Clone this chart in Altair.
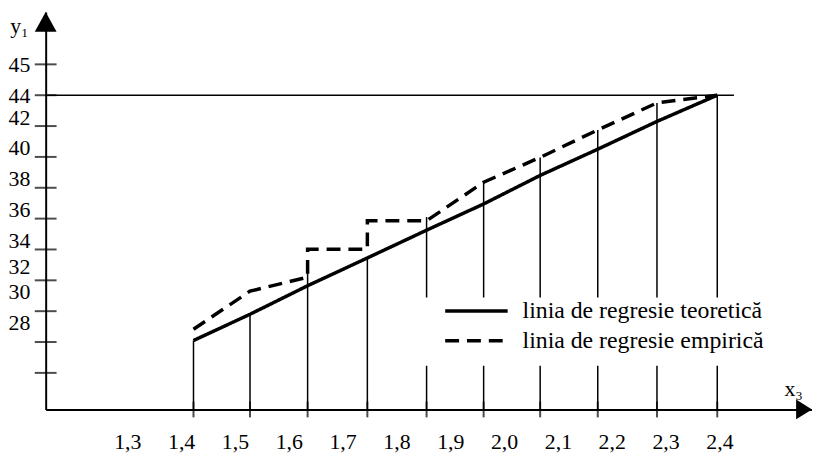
import altair as alt
import pandas as pd

# ---- data ----
x_lines = [1.423, 1.528, 1.635, 1.746, 1.856, 1.962, 2.067, 2.174, 2.284, 2.396]
y_teoretic = [28.1, 29.8, 31.65, 33.45, 35.25, 36.95, 38.8, 40.5, 42.3, 44.0]
emp_x = [1.423, 1.528, 1.635, 1.635, 1.746, 1.746, 1.856, 1.962, 2.067, 2.174, 2.284, 2.396]
emp_y = [28.83, 31.3, 32.2, 34.02, 34.02, 35.86, 35.86, 38.36, 39.97, 41.75, 43.5, 44.0]
drop_top = [28.1, 29.8, 33.3, 33.45, 36.1, 38.36, 39.97, 41.75, 43.5, 44.0]

x_tick_values = [1.3, 1.4, 1.5, 1.6, 1.7, 1.8, 1.9, 2.0, 2.1, 2.2, 2.3, 2.4]
x_tick_labels = ["1,3", "1,4", "1,5", "1,6", "1,7", "1,8", "1,9", "2,0", "2,1", "2,2", "2,3", "2,4"]
y_tick_values = [28, 30, 32, 34, 36, 38, 40, 42, 44, 46]
y_tick_labels = ["28", "30", "32", "34", "36", "38", "40", "42", "44", "45"]
y_tick_marks = [26, 28, 30, 32, 34, 36, 38, 40, 42, 44, 46]
series = ["linia de regresie teoretică", "linia de regresie empirică"]
level = 44
level_end = 2.427

# ---- layout ----
W, H = 773, 401
FONT = "Liberation Serif"
X_DOMAIN = [1.1484, 2.572]
Y_DOMAIN = [23.63, 49.40]

xs = alt.Scale(domain=X_DOMAIN, nice=False, zero=False)
ys = alt.Scale(domain=Y_DOMAIN, nice=False, zero=False)

x_label_expr = "[" + ",".join("'%s'" % s for s in x_tick_labels) + "][indexof([" + \
    ",".join(str(v) for v in x_tick_values) + "], datum.value)]"
y_label_expr = "[" + ",".join("'%s'" % s for s in y_tick_labels) + "][indexof([" + \
    ",".join(str(v) for v in y_tick_values) + "], datum.value)]"

xaxis = alt.Axis(
    values=x_tick_values, labelExpr=x_label_expr, ticks=False, grid=False,
    domain=True, domainColor="black", domainWidth=2,
    labelFont=FONT, labelFontSize=22, labelColor="black", labelPadding=39,
    labelBaseline="alphabetic", labelFlush=False, labelOverlap=False,
    title="x₃", titleFont=FONT, titleFontSize=22, titleFontWeight="normal",
    titleColor="black", titleX=754, titleY=-21, titleAlign="center",
    titleBaseline="middle", titleAngle=0,
)
yaxis = alt.Axis(
    values=y_tick_values, labelExpr=y_label_expr, ticks=False, grid=False,
    domain=True, domainColor="black", domainWidth=2,
    labelFont=FONT, labelFontSize=22, labelColor="black", labelPadding=16,
    labelBaseline="middle", labelFlush=False, labelOverlap=False,
    labelOffset={"condition": [
        {"test": "datum.value <= 30", "value": -20},
        {"test": "datum.value <= 32", "value": -14},
        {"test": "datum.value < 43", "value": -9}], "value": 0},
    title="y₁", titleFont=FONT, titleFontSize=22, titleFontWeight="normal",
    titleColor="black", titleX=-27, titleY=14, titleAlign="center",
    titleBaseline="middle", titleAngle=0,
)


def X(field):
    return alt.X(field + ":Q", scale=xs, axis=xaxis, title="x₃")


def Y(field):
    return alt.Y(field + ":Q", scale=ys, axis=yaxis, title="y₁")


drops = pd.DataFrame({"x": x_lines, "y": drop_top})
xticks = pd.DataFrame({"x": x_lines})
yticks = pd.DataFrame({"y": y_tick_marks})
lvl = pd.DataFrame({"x": [X_DOMAIN[0]], "x2": [level_end], "y": [level]})

rows = []
for k, (a, b) in enumerate(zip(x_lines, y_teoretic)):
    rows.append({"s": series[0], "k": k, "x": a, "y": b})
for k, (a, b) in enumerate(zip(emp_x, emp_y)):
    rows.append({"s": series[1], "k": k, "x": a, "y": b})
lines_df = pd.DataFrame(rows)

drop_layer = alt.Chart(drops).mark_rule(color="black", strokeWidth=1.5).encode(
    x=X("x"), y=Y("y"), y2=alt.value(H))

level_layer = alt.Chart(lvl).mark_rule(color="black", strokeWidth=1.6).encode(
    x=X("x"), x2="x2:Q", y=Y("y"))

mask_layer = alt.Chart(pd.DataFrame({"a": [0]})).mark_rect(color="white").encode(
    x=alt.value(381), x2=alt.value(754), y=alt.value(288), y2=alt.value(357))

reg_layer = alt.Chart(lines_df).mark_line(color="black", strokeWidth=3.5).encode(
    x=X("x"), y=Y("y"), order="k:Q",
    strokeDash=alt.StrokeDash(
        "s:N",
        scale=alt.Scale(domain=series, range=[[1, 0], [14, 8]]),
        legend=alt.Legend(
            orient="none", legendX=401, legendY=290.7, title=None,
            symbolType="stroke", symbolSize=3969, symbolStrokeWidth=3.5,
            symbolStrokeColor="black", labelFont=FONT, labelFontSize=24,
            labelColor="black", labelOffset=13, rowPadding=6, clipHeight=22,
            padding=0, labelLimit=0,
        ),
    ),
)

ytick_layer = alt.Chart(yticks).mark_tick(color="black", size=22, thickness=2).encode(
    y=Y("y"), x=alt.value(0))

xtick_layer = alt.Chart(xticks).mark_tick(color="black", size=16, thickness=2).encode(
    x=X("x"), y=alt.value(H))

arrow_y = alt.Chart(pd.DataFrame({"a": [0]})).mark_point(
    shape="M0,-1L1.1,1L-1.1,1Z", filled=True, size=400, color="black", opacity=1
).encode(x=alt.value(0), y=alt.value(10))

arrow_x = alt.Chart(pd.DataFrame({"a": [0]})).mark_point(
    shape="M1,0L-1,1.25L-1,-1.25Z", filled=True, size=256, color="black", opacity=1
).encode(x=alt.value(765), y=alt.value(H))

chart = alt.layer(
    drop_layer, level_layer, mask_layer, reg_layer, ytick_layer, xtick_layer,
    arrow_y, arrow_x,
).properties(
    width=W, height=H,
    autosize=alt.AutoSizeParams(type="none"),
    padding={"left": 38, "top": 2, "right": 0, "bottom": 43},
    background="white",
).configure_view(stroke=None)

chart.save("out.html", embed_options={"renderer": "svg", "actions": False})
